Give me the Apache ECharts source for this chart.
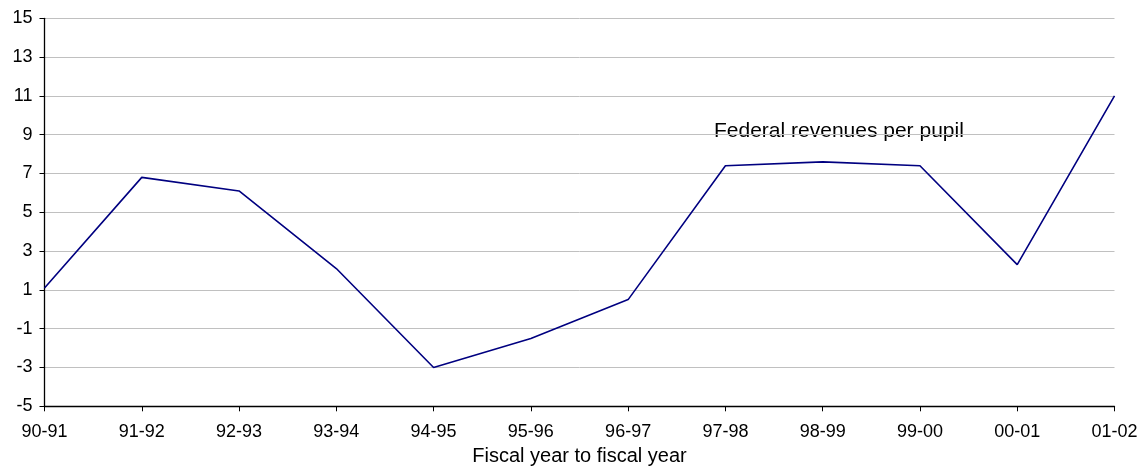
<!DOCTYPE html>
<html>
<head>
<meta charset="utf-8">
<script src="https://cdn.jsdelivr.net/npm/echarts@6/dist/echarts.min.js"></script>
<style>html,body{margin:0;padding:0;background:#fff;}#c{width:1144px;height:466px;}</style>
</head>
<body>
<div id="c"></div>
<script>
const categories = ['90-91','91-92','92-93','93-94','94-95','95-96','96-97','97-98','98-99','99-00','00-01','01-02'];
const federalRevenuesPerPupil = [1.1, 6.8, 6.1, 2.1, -3.0, -1.5, 0.5, 7.4, 7.6, 7.4, 2.3, 11.0];
const seriesName = 'Federal revenues per pupil';
const xAxisName = 'Fiscal year to fiscal year';
const yMin = -5, yMax = 15, yStep = 2;

const font = '"Liberation Sans", Arial, sans-serif';
const chart = echarts.init(document.getElementById('c'), null, {renderer: 'canvas'});
chart.setOption({
  animation: false,
  backgroundColor: '#fff',
  grid: {left: 44.5, right: 29.5, top: 18.3, bottom: 59.7, containLabel: false, outerBoundsMode: 'none'},
  xAxis: {
    type: 'category',
    data: categories,
    boundaryGap: false,
    name: xAxisName,
    nameLocation: 'middle',
    nameGap: 39,
    nameTextStyle: {fontFamily: font, fontSize: 20, color: '#000'},
    axisLine: {onZero: false, lineStyle: {color: '#000', width: 1.3}},
    axisTick: {show: true, alignWithLabel: true, length: 5, inside: false, lineStyle: {color: '#000'}},
    axisLabel: {fontFamily: font, fontSize: 18, color: '#000', margin: 17, interval: 0},
    splitLine: {show: false}
  },
  yAxis: {
    type: 'value',
    min: yMin, max: yMax, interval: yStep,
    axisLine: {show: true, lineStyle: {color: '#000', width: 1.3}},
    axisTick: {show: true, length: 5, lineStyle: {color: '#000'}},
    axisLabel: {fontFamily: font, fontSize: 18, color: '#000', margin: 12},
    splitLine: {show: true, lineStyle: {color: '#c0c0c0', width: 1}}
  },
  graphic: [{
    type: 'text',
    left: 714, top: 121,
    style: {text: seriesName, fontFamily: font, fontSize: 21, fill: '#000'}
  }],
  series: [{
    name: seriesName,
    type: 'line',
    data: federalRevenuesPerPupil,
    symbol: 'none',
    lineStyle: {color: '#000080', width: 1.6},
    itemStyle: {color: '#000080'}
  }]
});
</script>
</body>
</html>
